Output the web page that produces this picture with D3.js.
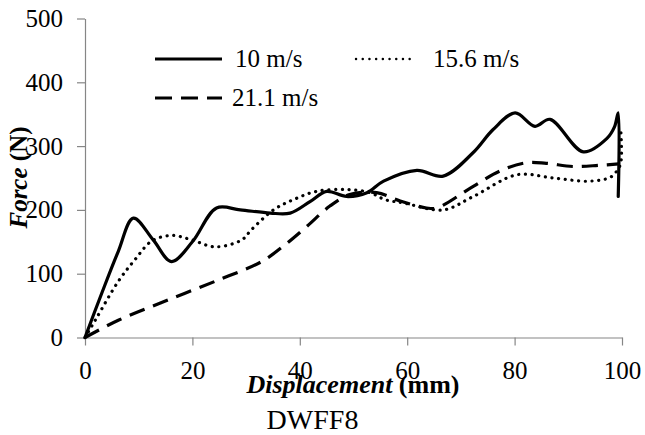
<!DOCTYPE html>
<html>
<head>
<meta charset="utf-8">
<script src="https://cdn.jsdelivr.net/npm/d3@7"></script>
<style>
  body { margin: 0; background: #fff; }
</style>
</head>
<body>
<script>
// series: [displacement mm, force N]
var v10 = [[0,0],[3.1,69],[6.2,135],[9,187],[12.7,153],[16.1,119],[20,150],[24.5,203],[28.9,200],[34.5,195],[38.2,195],[41.9,213],[45,229],[48.7,221],[52.5,227],[55.6,245],[61.8,262],[66.7,253],[72.3,290],[76,326],[80.1,352],[83.8,331],[86.6,342],[92.8,291],[97.2,312],[98.6,330],[99.3,352],[99.3,221]];
var v156 = [[0,0],[1.9,27],[6.2,88],[9.3,122],[12.4,151],[16.1,160],[19.9,153],[24.2,142],[29.2,153],[31,169],[35.1,200],[38.8,216],[43.1,229],[48.7,232],[53.1,227],[55.9,216],[59.3,211],[66.7,200],[72.3,221],[80.4,255],[87.2,250],[93.7,245],[97.8,251],[99.2,263],[99.8,275],[99.8,322]];
var v211 = [[0,0],[6.2,27],[15.5,59],[24.8,90],[32.9,119],[37.2,145],[41.3,174],[45.6,206],[49.3,224],[54.3,227],[58.7,214],[63.6,203],[65.5,203],[72.3,237],[77.3,261],[82.2,274],[85.9,273],[90.9,268],[95.9,270],[99.4,272]];

var xTicks = [0, 20, 40, 60, 80, 100];
var yTicks = [0, 100, 200, 300, 400, 500];
var seriesNames = ["10 m/s", "15.6 m/s", "21.1 m/s"];

var serif = "'Liberation Serif'";

// set the dimensions and margins of the graph
var margin = {top: 18.5, left: 85},
    width = 537,
    height = 319;

var svg = d3.select("body").append("svg")
    .attr("width", 645)
    .attr("height", 435);

var g = svg.append("g")
    .attr("transform", "translate(" + margin.left + "," + margin.top + ")");

var x = d3.scaleLinear().domain([0, 100]).range([0, width]);
var y = d3.scaleLinear().domain([0, 500]).range([height, 0]);

// axes
var xAxis = g.append("g")
    .attr("transform", "translate(0," + height + ")")
    .call(d3.axisBottom(x).tickValues(xTicks).tickSize(8).tickSizeOuter(0).tickPadding(14));
var yAxis = g.append("g")
    .call(d3.axisLeft(y).tickValues(yTicks).tickSize(8).tickSizeOuter(0).tickPadding(14));

[xAxis, yAxis].forEach(function(a) {
  a.select(".domain").attr("stroke", "#868686").attr("stroke-width", 1.2);
  a.selectAll(".tick line").attr("stroke", "#868686").attr("stroke-width", 1.2);
  a.selectAll(".tick text")
    .style("font-family", serif)
    .style("font-size", "25px")
    .attr("fill", "#000");
});
xAxis.selectAll(".tick text").attr("y", 24);

// line styles
var styles = [
  {data: v10, width: 3.2, dash: null, cap: "round"},
  {data: v156, width: 3.2, dash: "0.1,6.6", cap: "round"},
  {data: v211, width: 3.2, dash: "16,9", cap: "butt"}
];

var line = d3.line()
    .x(d => x(d[0]))
    .y(d => y(d[1]))
    .curve(d3.curveCatmullRom.alpha(0.5));

styles.forEach(function(s) {
  g.append("path")
    .datum(s.data)
    .attr("d", line)
    .attr("fill", "none")
    .attr("stroke", "#000")
    .attr("stroke-width", s.width)
    .attr("stroke-linecap", s.cap)
    .attr("stroke-linejoin", "round")
    .attr("stroke-dasharray", s.dash);
});

// legend
var legend = [
  {name: seriesNames[0], x1: 155, x2: 222, y: 59, tx: 235, w: 3.2, dash: null, cap: "butt"},
  {name: seriesNames[1], x1: 356, x2: 415, y: 59, tx: 433, w: 2.4, dash: "0.1,6.6", cap: "round"},
  {name: seriesNames[2], x1: 155, x2: 222, y: 98, tx: 232, w: 3.2, dash: "17,9", cap: "butt"}
];
legend.forEach(function(l) {
  svg.append("line")
    .attr("x1", l.x1).attr("x2", l.x2)
    .attr("y1", l.y).attr("y2", l.y)
    .attr("stroke", "#000")
    .attr("stroke-width", l.w)
    .attr("stroke-linecap", l.cap)
    .attr("stroke-dasharray", l.dash);
  svg.append("text")
    .attr("x", l.tx)
    .attr("y", l.y + 8)
    .style("font-family", serif)
    .style("font-size", "25px")
    .text(l.name);
});

// axis titles
var xt = svg.append("text")
    .attr("x", 353)
    .attr("y", 393)
    .attr("text-anchor", "middle")
    .style("font-family", serif)
    .style("font-size", "26px")
    .style("font-weight", "bold");
xt.append("tspan").style("font-style", "italic").text("Displacement");
xt.append("tspan").text(" (mm)");

var yt = svg.append("text")
    .attr("transform", "translate(27,177.5) rotate(-90)")
    .attr("text-anchor", "middle")
    .style("font-family", serif)
    .style("font-size", "25px")
    .style("font-weight", "bold");
yt.append("tspan").style("font-style", "italic").text("Force");
yt.append("tspan").text(" (N)");

svg.append("text")
    .attr("x", 312.5)
    .attr("y", 429)
    .attr("text-anchor", "middle")
    .style("font-family", serif)
    .style("font-size", "28px")
    .text("DWFF8");
</script>
</body>
</html>
